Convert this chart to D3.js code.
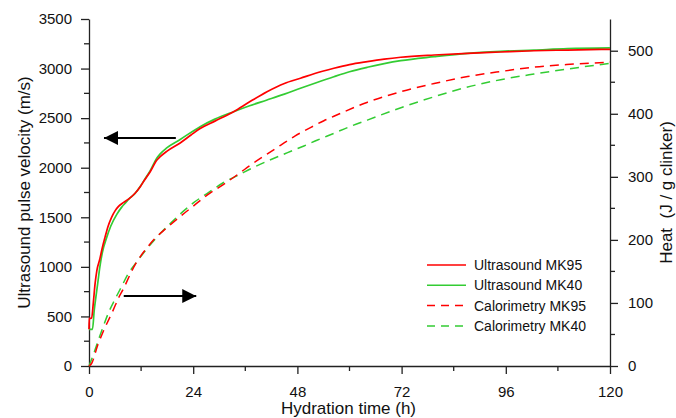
<!DOCTYPE html>
<html>
<head>
<meta charset="utf-8">
<script src="https://cdn.jsdelivr.net/npm/d3@7"></script>
<style>
  html, body { margin: 0; padding: 0; background: #fff; }
  svg { display: block; font-family: "Liberation Sans", Arial, sans-serif; }
</style>
</head>
<body>
<svg id="chart" width="676" height="418"></svg>
<script>
// Hydration time (h) vs ultrasound pulse velocity (m/s)
const usMK95 = [[0,370],[0.05,480],[0.6,482],[1.0,640],[1.4,830],[1.8,960],[2.5,1080],[3.0,1180],[3.7,1300],[4.4,1410],[5.2,1500],[6.0,1565],[6.8,1610],[7.9,1648],[9.1,1683],[10.6,1742],[11.8,1809],[12.8,1876],[14.1,1960],[15.6,2075],[16.4,2111],[17.9,2165],[21,2250],[23.5,2330],[25.6,2395],[29,2470],[33.3,2565],[37,2665],[41,2767],[45,2850],[48.7,2902],[52,2950],[56.4,3003],[60,3040],[64.1,3070],[68,3095],[71.8,3114],[79.5,3137],[87.2,3154],[94.8,3167],[102.5,3180],[110.2,3187],[120,3194]];
const usMK40 = [[0,370],[0.8,370],[1.2,560],[1.6,700],[2.0,830],[2.5,1000],[3.1,1150],[4.1,1300],[5.0,1410],[6.4,1530],[7.5,1600],[8.5,1650],[9.1,1680],[10.6,1740],[11.8,1810],[12.8,1880],[14.1,1970],[15.6,2095],[16.4,2140],[17.9,2200],[21,2285],[25.6,2414],[29,2490],[33.3,2565],[37,2625],[41,2683],[45,2742],[48.7,2801],[52.5,2860],[56.4,2918],[60,2968],[64.1,3013],[68,3050],[71.8,3080],[79.5,3120],[87.2,3154],[94.8,3174],[102.5,3187],[110.2,3201],[120,3208]];

// Hydration time (h) vs cumulative heat (J / g clinker)
const calMK95 = [[0,0],[0.6,4],[2,33],[3.3,55],[5.6,89],[6.8,108],[7.9,122],[9.8,150],[11,165],[12.5,180],[13.3,187],[15,201],[17.9,219],[21,237],[24.1,254],[27.2,271],[31,288],[34.5,305],[37.5,320],[41,336],[44.1,350],[47.5,365],[51,378],[54.1,389],[56.4,396],[64,418],[71.8,435],[79.5,448],[87.2,459],[94.8,467],[102.5,474],[110,478],[120,482]];
const calMK40 = [[0,0],[1,18],[2.15,41],[3.3,63],[4.46,84],[6,106],[7.5,126],[9,146],[11,165],[13,183],[16.4,210],[19,228],[21,241],[24.1,259],[27.5,275],[31,291],[34.5,303],[37.9,315],[41.8,327],[45.6,338],[49.5,349],[52.5,358],[56.4,369],[60.2,380],[64.1,390],[72,410],[79.5,427],[87,442],[94.8,454],[102.5,463],[110.2,471],[120,480]];

const xTicks = [0, 24, 48, 72, 96, 120];
const yLeftTicks = [0, 500, 1000, 1500, 2000, 2500, 3000, 3500];
const yRightTicks = [0, 100, 200, 300, 400, 500];

const seriesNames = ["Ultrasound MK95", "Ultrasound MK40", "Calorimetry MK95", "Calorimetry MK40"];
const seriesColors = ["#ff0000", "#33cc33", "#ff0000", "#33cc33"];

const svg = d3.select("#chart");
const W = 676, H = 418;
const m = { left: 89, right: 610, top: 19, bottom: 366 };
const axisColor = "#222";
const fmt = d3.format("d");

svg.append("rect").attr("width", W).attr("height", H).attr("fill", "#fff");

const x = d3.scaleLinear().domain([0, 120]).range([m.left, m.right]);
const yL = d3.scaleLinear().domain([0, 3500]).range([m.bottom, m.top]);
const yR = d3.scaleLinear().domain([0, 550.3]).range([m.bottom, m.top]);

function styleAxis(g) {
  g.selectAll("path.domain").attr("stroke", axisColor).attr("stroke-width", 1.3);
  g.selectAll(".tick line").attr("stroke", axisColor).attr("stroke-width", 1.3);
  g.selectAll(".tick text").attr("fill", "#111").attr("font-size", 15)
    .attr("font-family", "'Liberation Sans', Arial, sans-serif");
}

// minor ticks first, then major axes on top
const minor = svg.append("g").attr("stroke", axisColor).attr("stroke-width", 1.3);
d3.range(12, 120, 24).forEach(v => minor.append("line")
  .attr("x1", x(v)).attr("x2", x(v)).attr("y1", m.bottom).attr("y2", m.bottom + 5));
d3.range(250, 3500, 500).forEach(v => minor.append("line")
  .attr("x1", m.left).attr("x2", m.left - 5).attr("y1", yL(v)).attr("y2", yL(v)));
d3.range(50, 550, 100).forEach(v => minor.append("line")
  .attr("x1", m.right).attr("x2", m.right + 5).attr("y1", yR(v)).attr("y2", yR(v)));

svg.append("g").attr("transform", `translate(0,${m.bottom})`)
  .call(d3.axisBottom(x).tickValues(xTicks).tickFormat(fmt).tickSizeInner(8).tickSizeOuter(0).tickPadding(12))
  .call(styleAxis);
svg.append("g").attr("transform", `translate(${m.left},0)`)
  .call(d3.axisLeft(yL).tickValues(yLeftTicks).tickFormat(fmt).tickSizeInner(8).tickSizeOuter(0).tickPadding(9))
  .call(styleAxis);
svg.append("g").attr("transform", `translate(${m.right},0)`)
  .call(d3.axisRight(yR).tickValues(yRightTicks).tickFormat(fmt).tickSizeInner(8).tickSizeOuter(0).tickPadding(10))
  .call(styleAxis);

// axis titles
svg.append("text").attr("x", (m.left + m.right) / 2 - 1).attr("y", 414)
  .attr("text-anchor", "middle").attr("font-size", 17).attr("fill", "#111")
  .text("Hydration time (h)");
svg.append("text").attr("transform", `translate(30,${(m.top + m.bottom) / 2}) rotate(-90)`)
  .attr("text-anchor", "middle").attr("font-size", 17).attr("fill", "#111")
  .text("Ultrasound pulse velocity (m/s)");
svg.append("text").attr("transform", `translate(672,${(m.top + m.bottom) / 2}) rotate(-90)`)
  .attr("text-anchor", "middle").attr("font-size", 17).attr("fill", "#111")
  .attr("xml:space", "preserve").style("white-space", "pre")
  .text("Heat  (J / g clinker)");

// curves
const lineL = d3.line().x(d => x(d[0])).y(d => yL(d[1])).curve(d3.curveMonotoneX);
const lineR = d3.line().x(d => x(d[0])).y(d => yR(d[1])).curve(d3.curveMonotoneX);

const dash = "9,6";
svg.append("path").datum(calMK40).attr("d", lineR).attr("fill", "none")
  .attr("stroke", seriesColors[3]).attr("stroke-width", 1.5).attr("stroke-dasharray", dash);
svg.append("path").datum(calMK95).attr("d", lineR).attr("fill", "none")
  .attr("stroke", seriesColors[2]).attr("stroke-width", 1.5).attr("stroke-dasharray", dash);
svg.append("path").datum(usMK40).attr("d", lineL).attr("fill", "none")
  .attr("stroke", seriesColors[1]).attr("stroke-width", 1.7);
svg.append("path").datum(usMK95).attr("d", lineL).attr("fill", "none")
  .attr("stroke", seriesColors[0]).attr("stroke-width", 1.7);

// arrows pointing to the axis each family of curves belongs to
svg.append("defs").append("marker").attr("id", "head")
  .attr("viewBox", "0 0 14 14").attr("refX", 14).attr("refY", 7)
  .attr("markerWidth", 14).attr("markerHeight", 14).attr("markerUnits", "userSpaceOnUse")
  .attr("orient", "auto")
  .append("path").attr("d", "M0,0 L14,7 L0,14 Z").attr("fill", "#000");
svg.append("line").attr("x1", x(20)).attr("y1", yL(2300)).attr("x2", x(3.45)).attr("y2", yL(2300))
  .attr("stroke", "#000").attr("stroke-width", 2).attr("marker-end", "url(#head)");
svg.append("line").attr("x1", x(8)).attr("y1", yR(111)).attr("x2", x(24.7)).attr("y2", yR(111))
  .attr("stroke", "#000").attr("stroke-width", 2).attr("marker-end", "url(#head)");

// legend
const leg = svg.append("g").attr("transform", "translate(427,265)");
seriesNames.forEach((name, i) => {
  const row = leg.append("g").attr("transform", `translate(0,${i * 20.3})`);
  row.append("line").attr("x1", 0).attr("x2", 39).attr("y1", 0).attr("y2", 0)
    .attr("stroke", seriesColors[i]).attr("stroke-width", 1.5)
    .attr("stroke-dasharray", i >= 2 ? "8,6" : null);
  row.append("text").attr("x", 47).attr("y", 5).attr("font-size", 14).attr("fill", "#111")
    .text(name);
});
</script>
</body>
</html>
